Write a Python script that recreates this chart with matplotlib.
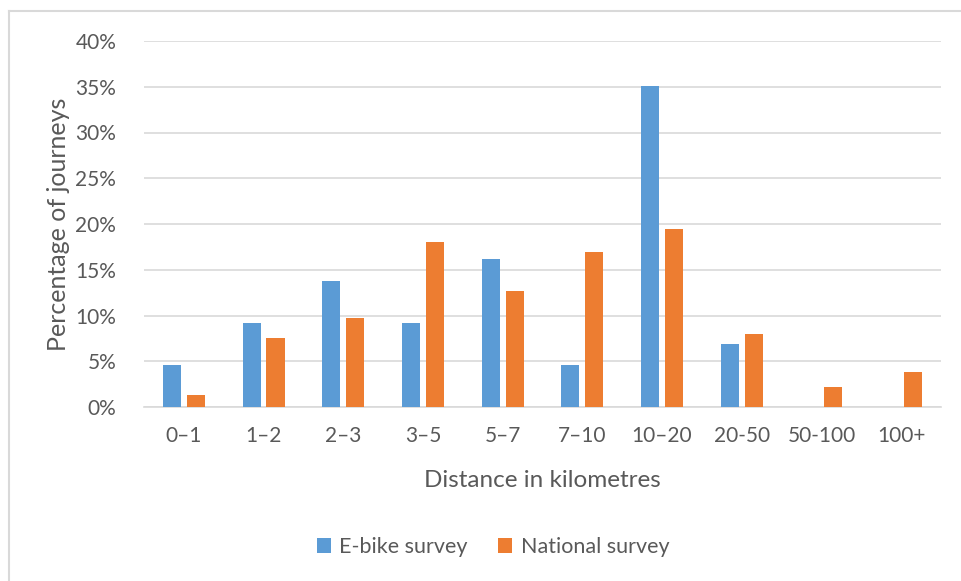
import matplotlib
matplotlib.use("Agg")
from matplotlib import pyplot as plt
from matplotlib.ticker import FuncFormatter
import numpy as np

categories = ['0–1', '1–2', '2–3', '3–5', '5–7', '7–10', '10–20', '20-50', '50-100', '100+']
ebike = [4.6, 9.2, 13.8, 9.2, 16.2, 4.6, 35.1, 6.9, 0, 0]
national = [1.3, 7.5, 9.7, 18.0, 12.7, 16.9, 19.5, 8.0, 2.2, 3.8]

plt.rcParams['font.family'] = ['Lato', 'DejaVu Sans']
grey = '#595959'

fig = plt.figure(figsize=(9.61, 5.81), dpi=100)
ax = fig.add_axes([144/961, 1 - 407/581, (941-144)/961, (407-41)/581])

x = np.arange(len(categories))
w = 0.226
ax.bar(x - 0.15, ebike, w, color='#5B9BD5', label='E-bike survey', zorder=3)
ax.bar(x + 0.15, national, w, color='#ED7D31', label='National survey', zorder=3)

ax.set_xlim(-0.5, len(categories) - 0.5)
ax.set_ylim(0, 40)
ax.set_yticks(range(0, 41, 5))
ax.yaxis.set_major_formatter(FuncFormatter(lambda v, p: '%d%%' % v))
ax.set_xticks(x)
ax.set_xticklabels(categories)
ax.grid(axis='y', color='#D9D9D9', linewidth=1.2, zorder=0)
for s in ['top', 'right', 'left']:
    ax.spines[s].set_visible(False)
ax.spines['bottom'].set_color('#D9D9D9')
ax.spines['bottom'].set_linewidth(1.2)
ax.tick_params(length=0, labelsize=15, colors=grey, pad=14)
ax.tick_params(axis='y', pad=20)

ax.set_xlabel('Distance in kilometres', fontsize=17.5, color=grey, labelpad=17)
ax.set_ylabel('Percentage of journeys', fontsize=18, color=grey, labelpad=4)

fig.legend(loc='center', bbox_to_anchor=(493/961, 1 - 547/581), ncol=2, frameon=False,
           fontsize=15.5, labelcolor=grey, handlelength=0.65, handleheight=0.65,
           handletextpad=0.4, columnspacing=1.4)

# chart frame (top and left edges only visible)
fig.add_artist(plt.Line2D([9/961, 1], [1 - 11/581, 1 - 11/581], color='#D9D9D9', lw=1.5))
fig.add_artist(plt.Line2D([9/961, 9/961], [0, 1 - 11/581], color='#D9D9D9', lw=1.5))

fig.savefig('out.png', dpi=100)
